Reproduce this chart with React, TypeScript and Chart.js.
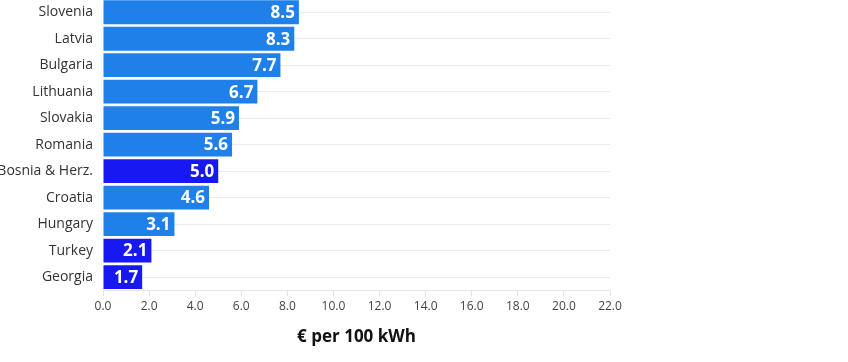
import React, { useEffect, useRef } from "react";
import { Chart, registerables } from "chart.js";

Chart.register(...registerables);

const countries = [
  "Slovenia",
  "Latvia",
  "Bulgaria",
  "Lithuania",
  "Slovakia",
  "Romania",
  "Bosnia & Herz.",
  "Croatia",
  "Hungary",
  "Turkey",
  "Georgia",
];
const prices = [8.5, 8.3, 7.7, 6.7, 5.9, 5.6, 5.0, 4.6, 3.1, 2.1, 1.7];
const nonEu = ["Bosnia & Herz.", "Turkey", "Georgia"];
const xTickValues = [0, 2, 4, 6, 8, 10, 12, 14, 16, 18, 20, 22];
const axisTitle = "€ per 100 kWh";

const EU_COLOR = "#1f80e9";
const NON_EU_COLOR = "#1818f2";
const FONT = "'Open Sans', sans-serif";

const valueLabels = {
  id: "valueLabels",
  afterDatasetsDraw(chart: any) {
    const ctx = chart.ctx;
    const meta = chart.getDatasetMeta(0);
    ctx.save();
    ctx.fillStyle = "#ffffff";
    ctx.font = `bold 17px ${FONT}`;
    ctx.textAlign = "right";
    ctx.textBaseline = "middle";
    meta.data.forEach((bar: any, i: number) => {
      const v = chart.data.datasets[0].data[i] as number;
      ctx.fillText(v.toFixed(1), bar.x - 4, bar.y + 1);
    });
    ctx.restore();
  },
};

export default function App() {
  const ref = useRef<HTMLCanvasElement | null>(null);
  useEffect(() => {
    if (!ref.current) return;
    const chart = new Chart(ref.current, {
      type: "bar",
      data: {
        labels: countries,
        datasets: [
          {
            data: prices,
            backgroundColor: countries.map((c) =>
              nonEu.includes(c) ? NON_EU_COLOR : EU_COLOR
            ),
            borderWidth: 0,
            categoryPercentage: 1,
            barPercentage: 0.9,
          },
        ],
      },
      plugins: [valueLabels],
      options: {
        indexAxis: "y",
        animation: false,
        responsive: false,
        maintainAspectRatio: false,
        layout: { padding: { top: 1, right: 238, bottom: 14.2, left: 0 } },
        plugins: {
          legend: { display: false },
          tooltip: { enabled: false },
          title: { display: false },
        },
        scales: {
          x: {
            type: "linear",
            min: 0,
            max: 22,
            afterBuildTicks: (scale: any) => {
              scale.ticks = xTickValues.map((v) => ({ value: v }));
            },
            ticks: {
              callback: (v: any) => Number(v).toFixed(1),
              color: "#444444",
              font: { family: FONT, size: 12 },
              padding: 3,
              maxRotation: 0,
            },
            grid: {
              drawOnChartArea: false,
              drawTicks: true,
              tickLength: 6,
              color: "#e3e3e3",
            },
            border: { display: true, color: "#e6e6e6" },
            title: {
              display: true,
              text: axisTitle,
              color: "#111111",
              font: { family: FONT, size: 17, weight: "bold" },
              padding: { top: 10.7, bottom: 0 },
            },
          },
          y: {
            afterFit: (scale: any) => {
              scale.width = 103;
              scale.paddingTop = 0;
              scale.paddingBottom = 0;
            },
            ticks: {
              color: "#333333",
              font: { family: FONT, size: 14 },
              padding: 10,
            },
            grid: {
              offset: false,
              drawTicks: false,
              color: "#ebebeb",
            },
            border: { display: false },
          },
        },
      },
    });
    return () => chart.destroy();
  }, []);

  return (
    <div
      style={{
        position: "absolute",
        left: 0,
        top: 0,
        width: 848,
        height: 362,
        overflow: "hidden",
        background: "#ffffff",
      }}
    >
      <canvas
        ref={ref}
        width={848}
        height={364}
        style={{ position: "absolute", left: 0, top: -2, width: 848, height: 364 }}
      />
    </div>
  );
}
